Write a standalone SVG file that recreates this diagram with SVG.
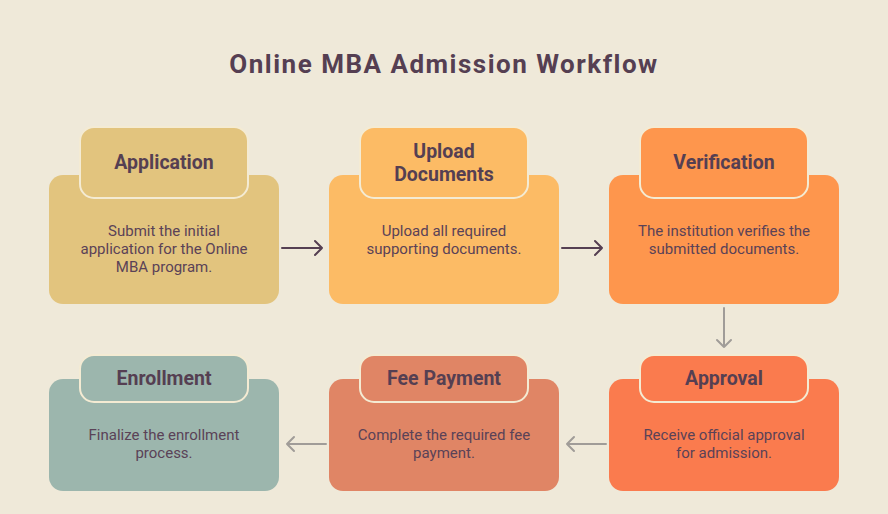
<svg xmlns="http://www.w3.org/2000/svg" width="888" height="514" viewBox="0 0 888 514">
<style>
.title{font-family:Roboto,"Liberation Sans",sans-serif;font-weight:700;font-size:26px;fill:#553F52;letter-spacing:1.5px}
.hd{font-family:Roboto,"Liberation Sans",sans-serif;font-weight:700;font-size:19.5px;fill:#553F52;text-anchor:middle}
.bd{font-family:Roboto,"Liberation Sans",sans-serif;font-size:15px;fill:#5A4257;text-anchor:middle}
.hbox{stroke:#F4EBD3;stroke-width:2}
.dark{stroke:#553F52;stroke-width:2;fill:none;stroke-linecap:round;stroke-linejoin:round}
.gray{stroke:#A09C98;stroke-width:2;fill:none;stroke-linecap:round;stroke-linejoin:round}
</style>
<rect width="888" height="514" fill="#EFE9D9"/>
<text class="title" x="444" y="73" text-anchor="middle">Online MBA Admission Workflow</text>
<g id="connectors">
<path class="dark" d="M282 248H322M315 241L322 248L315 255"/>
<path class="dark" d="M562 248H602M595 241L602 248L595 255"/>
<path class="gray" d="M724 308V347M717 340L724 347L731 340"/>
<path class="gray" d="M606 444H567M574 437L567 444L574 451"/>
<path class="gray" d="M326 444H287M294 437L287 444L294 451"/>
</g>
<g id="application">
<rect x="49" y="175" width="230" height="129" rx="14" fill="#E2C47E"/>
<rect class="hbox" x="80" y="127" width="168" height="71" rx="14" fill="#E2C47E"/>
<text class="hd" x="164" y="169">Application</text>
<text class="bd" x="164" y="236">Submit the initial</text>
<text class="bd" x="164" y="254">application for the Online</text>
<text class="bd" x="164" y="272">MBA program.</text>
</g>
<g id="upload">
<rect x="329" y="175" width="230" height="129" rx="14" fill="#FCBB65"/>
<rect class="hbox" x="360" y="127" width="168" height="71" rx="14" fill="#FCBB65"/>
<text class="hd" x="444" y="158">Upload</text>
<text class="hd" x="444" y="181">Documents</text>
<text class="bd" x="444" y="236">Upload all required</text>
<text class="bd" x="444" y="254">supporting documents.</text>
</g>
<g id="verification">
<rect x="609" y="175" width="230" height="129" rx="14" fill="#FE964D"/>
<rect class="hbox" x="640" y="127" width="168" height="71" rx="14" fill="#FE964D"/>
<text class="hd" x="724" y="169">Verification</text>
<text class="bd" x="724" y="236">The institution verifies the</text>
<text class="bd" x="724" y="254">submitted documents.</text>
</g>
<g id="approval">
<rect x="609" y="379" width="230" height="112" rx="14" fill="#FA7B4E"/>
<rect class="hbox" x="640" y="355" width="168" height="47" rx="14" fill="#FA7B4E"/>
<text class="hd" x="724" y="385">Approval</text>
<text class="bd" x="724" y="440">Receive official approval</text>
<text class="bd" x="724" y="458">for admission.</text>
</g>
<g id="fee">
<rect x="329" y="379" width="230" height="112" rx="14" fill="#E08565"/>
<rect class="hbox" x="360" y="355" width="168" height="47" rx="14" fill="#E08565"/>
<text class="hd" x="444" y="385">Fee Payment</text>
<text class="bd" x="444" y="440">Complete the required fee</text>
<text class="bd" x="444" y="458">payment.</text>
</g>
<g id="enrollment">
<rect x="49" y="379" width="230" height="112" rx="14" fill="#9CB6AD"/>
<rect class="hbox" x="80" y="355" width="168" height="47" rx="14" fill="#9CB6AD"/>
<text class="hd" x="164" y="385">Enrollment</text>
<text class="bd" x="164" y="440">Finalize the enrollment</text>
<text class="bd" x="164" y="458">process.</text>
</g>
</svg>
